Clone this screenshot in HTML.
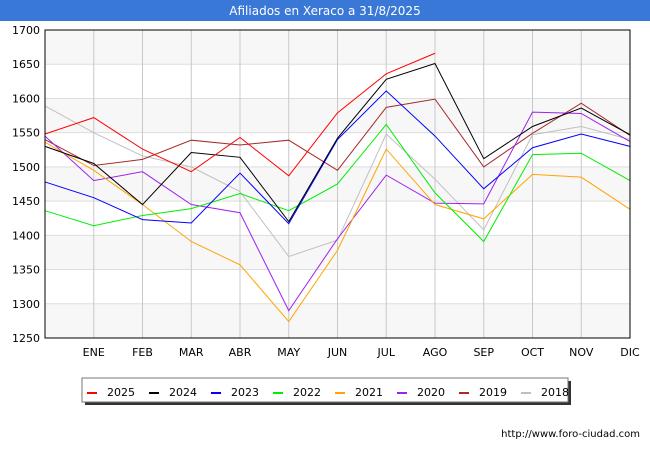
<!DOCTYPE html>
<html><head><meta charset="utf-8"><style>
body{margin:0;background:#fff;font-family:"Liberation Sans","DejaVu Sans",sans-serif}
#wrap{position:relative;width:650px;height:450px;overflow:hidden}
svg text{font-family:"DejaVu Sans","Liberation Sans",sans-serif}
</style></head><body>
<div id="wrap">
<svg id="chart" width="650" height="450" xmlns="http://www.w3.org/2000/svg">
<rect x="0" y="0" width="650" height="450" fill="#fff"/>
<rect x="0" y="0" width="650" height="21" fill="#3a78d8"/>
<text x="325" y="15" text-anchor="middle" font-size="12" fill="#fff">Afiliados en Xeraco a 31/8/2025</text>
<g id="grid"></g>
<g id="series"></g>
<rect x="45" y="30" width="585" height="308" fill="none" stroke="#000" stroke-width="1"/>
<g id="axes"></g>
<g id="legend"></g>
<text x="640" y="437" text-anchor="end" font-size="10" fill="#000">http://www.foro-ciudad.com</text>
</svg>
</div>
<script>
const months = ["", "ENE","FEB","MAR","ABR","MAY","JUN","JUL","AGO","SEP","OCT","NOV","DIC"];
const yTicks = [1250,1300,1350,1400,1450,1500,1550,1600,1650,1700];
const seriesNames = ["2025","2024","2023","2022","2021","2020","2019","2018"];
const seriesColors = ["#ff0000","#000000","#0000ff","#00ee00","#ffa500","#a020f0","#a52a2a","#c0c0c0"];
const v2025 = [1548,1572,1526,1493,1543,1487,1579,1636,1666];
const v2024 = [1530,1505,1445,1521,1514,1420,1542,1628,1651,1512,1559,1586,1547];
const v2023 = [1478,1455,1423,1418,1491,1417,1540,1611,1545,1468,1528,1548,1530];
const v2022 = [1436,1414,1429,1439,1461,1436,1475,1562,1462,1391,1518,1520,1480];
const v2021 = [1536,1495,1445,1391,1357,1274,1378,1526,1445,1424,1489,1485,1438];
const v2020 = [1545,1480,1493,1445,1433,1290,1395,1488,1447,1446,1580,1578,1537];
const v2019 = [1540,1502,1511,1539,1532,1539,1495,1587,1599,1500,1549,1593,1546];
const v2018 = [1589,1550,1516,1500,1464,1369,1393,1548,1482,1408,1547,1559,1540];
const allSeries = [v2025,v2024,v2023,v2022,v2021,v2020,v2019,v2018];

const X0=45,X1=630,Y0=338,Y1=30,VMIN=1250,VMAX=1700;
function xs(i){return X0+(X1-X0)*i/(months.length-1);}
function ys(v){return Y0-(v-VMIN)/(VMAX-VMIN)*(Y0-Y1);}
const NS="http://www.w3.org/2000/svg";
function mk(tag,attrs,parent){const e=document.createElementNS(NS,tag);for(const k in attrs)e.setAttribute(k,attrs[k]);parent.appendChild(e);return e;}
const grid=document.getElementById('grid'),axes=document.getElementById('axes'),ser=document.getElementById('series'),leg=document.getElementById('legend');
for(let i=0;i<yTicks.length-1;i++){
  if((yTicks.length-2-i)%2===0){
    const r=mk('rect',{x:X0,y:ys(yTicks[i+1]),width:X1-X0,height:ys(yTicks[i])-ys(yTicks[i+1]),fill:'#f7f7f7'},grid);
    
    
  }
}
yTicks.forEach(t=>{
  const l=mk('line',{x1:X0,x2:X1,y1:ys(t),y2:ys(t),stroke:'#dddddd','stroke-width':1},grid);
  
  
  const tx=mk('text',{x:X0-5,y:ys(t)+4,'text-anchor':'end','font-size':11,fill:'#000'},axes);
  tx.textContent=t;
  
  
});
months.forEach((m,i)=>{
  if(i===0)return;
  const l=mk('line',{x1:xs(i),x2:xs(i),y1:Y1,y2:Y0,stroke:'#c8c8c8','stroke-width':1},grid);
  
  
  const tx=mk('text',{x:xs(i),y:356,'text-anchor':'middle','font-size':11,fill:'#000'},axes);
  tx.textContent=m;
  
  
});
for(let s=allSeries.length-1;s>=0;s--){
  const pts=allSeries[s].map((v,i)=>xs(i)+','+ys(v)).join(' ');
  const p=mk('polyline',{points:pts,fill:'none',stroke:seriesColors[s],'stroke-width':1},ser);
  
  
}
const sh=mk('rect',{x:85,y:381,width:486,height:24,fill:'#333'},leg);


const lb=mk('rect',{x:82,y:378,width:486,height:24,fill:'#fff',stroke:'#777','stroke-width':1},leg);


seriesNames.forEach((n,i)=>{
  const bx=87+i*62;
  const g=mk('g',{},leg);
  
  
  mk('rect',{x:bx,y:392,width:10,height:2,fill:seriesColors[i]},g);
  const t=mk('text',{x:bx+20,y:396,'font-size':11,fill:'#000'},g);
  t.textContent=n;
});
</script>
</body></html>
